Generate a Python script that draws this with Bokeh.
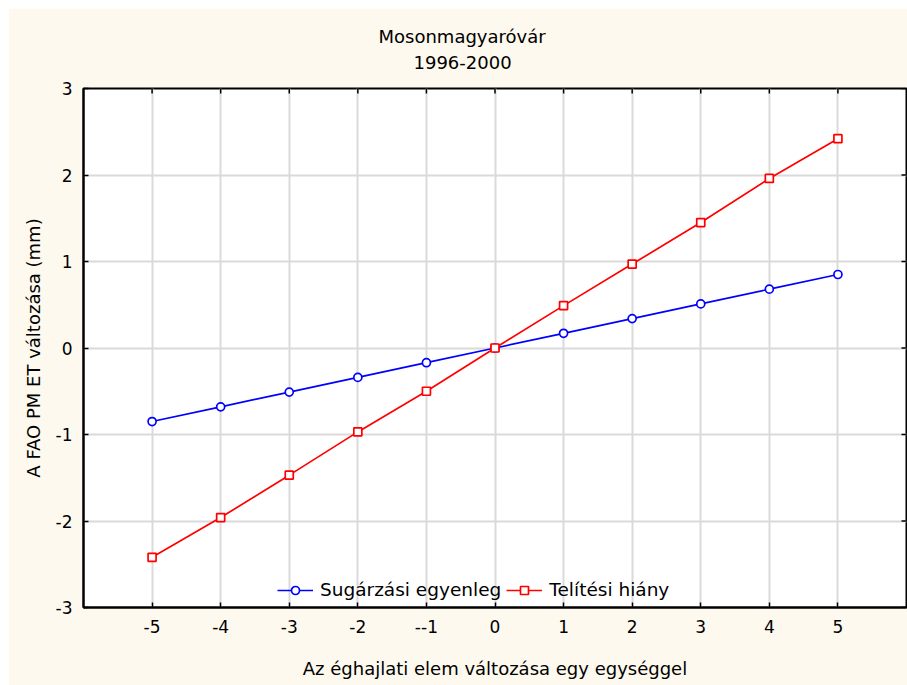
import math
from bokeh.plotting import figure
from bokeh.models import (FixedTicker, Title, Legend, LegendItem, Range1d)
from bokeh.embed import file_html
from bokeh.resources import INLINE

# ---- data ----
x_values = [-5, -4, -3, -2, -1, 0, 1, 2, 3, 4, 5]
sugarzasi_egyenleg = [-0.85, -0.68, -0.51, -0.34, -0.17, 0.0, 0.17, 0.34, 0.51, 0.68, 0.85]
telitesi_hiany = [-2.42, -1.96, -1.47, -0.97, -0.50, 0.0, 0.49, 0.97, 1.45, 1.96, 2.42]
x_tick_labels = ["-5", "-4", "-3", "-2", "--1", "0", "1", "2", "3", "4", "5"]
y_ticks = [-3, -2, -1, 0, 1, 2, 3]
y_tick_labels = ["-3", "-2", "-1", "0", "1", "2", "3"]
x_limits = (-6, 6)
y_limits = (-3, 3)
series_names = ["Sugárzási egyenleg", "Telítési hiány"]
title_text = "Mosonmagyaróvár"
subtitle_text = "1996-2000"
x_label = "Az éghajlati elem változása egy egységgel"
y_label = "A FAO PM ET változása (mm)"

FONT = "DejaVu Sans"
CREAM = "#fdf9ee"

p = figure(width=899, height=677, output_backend="svg", toolbar_location=None,
           x_range=Range1d(*x_limits), y_range=Range1d(*y_limits),
           min_border_left=75, min_border_right=1, min_border_top=80,
           min_border_bottom=78, margin=(8, 0, 0, 8))

p.border_fill_color = CREAM
p.background_fill_color = "white"
p.outline_line_color = "black"
p.outline_line_width = 2

# axes
for ax in p.xaxis:
    ax.ticker = FixedTicker(ticks=x_values)
for ax in p.yaxis:
    ax.ticker = FixedTicker(ticks=y_ticks)

bx = p.below[0]
ly = p.left[0]
bx.major_label_overrides = {v: s for v, s in zip(x_values, x_tick_labels)}
bx.axis_label = x_label
ly.major_label_overrides = {v: s for v, s in zip(y_ticks, y_tick_labels)}
ly.axis_label = y_label

for ax in (bx, ly):
    ax.major_tick_in = 5
    ax.major_tick_out = 0
    ax.minor_tick_in = 0
    ax.minor_tick_out = 0
    ax.major_tick_line_color = "black"
    ax.major_tick_line_width = 1.5
    ax.axis_line_color = "black"
    ax.axis_line_width = 2
    ax.major_label_text_font = FONT
    ax.major_label_text_font_size = "17px"
    ax.major_label_text_color = "black"
    ax.axis_label_text_font = FONT
    ax.axis_label_text_font_size = "18px"
    ax.axis_label_text_font_style = "normal"
    ax.axis_label_text_color = "black"

bx.major_label_standoff = 12
bx.axis_label_standoff = 22
ly.major_label_standoff = 11
ly.axis_label_standoff = 9

# grid
p.xgrid.ticker = FixedTicker(ticks=x_values)
p.ygrid.ticker = FixedTicker(ticks=y_ticks)
p.grid.grid_line_color = "#dadada"
p.grid.grid_line_width = 2

# mirrored inward tick marks on the top and right frame edges
p.ray(x=x_values, y=[y_limits[1]] * len(x_values), length=5, length_units="screen",
      angle=-math.pi / 2, line_color="black", line_width=1.5)
p.ray(x=[x_limits[1]] * len(y_ticks), y=y_ticks, length=5, length_units="screen",
      angle=math.pi, line_color="black", line_width=1.5)

# titles (inner first, then outer)
sub = Title(text=subtitle_text, align="left", offset=330, standoff=39,
            text_font=FONT, text_font_size="18px", text_font_style="normal",
            text_color="black")
p.add_layout(sub, "above")
main = Title(text=title_text, align="left", offset=295, standoff=-25,
             text_font=FONT, text_font_size="18px", text_font_style="normal",
             text_color="black")
p.add_layout(main, "above")

# series
blue_line = p.line(x_values, sugarzasi_egyenleg, line_color="#0000ff", line_width=1.7)
blue_pts = p.scatter(x_values, sugarzasi_egyenleg, marker="circle", size=8,
                     line_color="#0000ff", line_width=1.7, fill_color="white")
red_line = p.line(x_values, telitesi_hiany, line_color="#ff0000", line_width=1.7)
red_pts = p.scatter(x_values, telitesi_hiany, marker="square", size=8,
                    line_color="#ff0000", line_width=1.7, fill_color="white")

legend = Legend(items=[LegendItem(label=series_names[0], renderers=[blue_line, blue_pts]),
                       LegendItem(label=series_names[1], renderers=[red_line, red_pts])],
                orientation="horizontal", location=(194, 7),
                border_line_alpha=0, background_fill_alpha=0,
                padding=0, margin=0, spacing=5, glyph_width=36, glyph_height=20,
                label_standoff=7, label_height=20,
                label_text_font=FONT, label_text_font_size="18.5px",
                label_text_color="black")
p.add_layout(legend, "center")

open("out.html", "w").write(file_html(p, INLINE))
